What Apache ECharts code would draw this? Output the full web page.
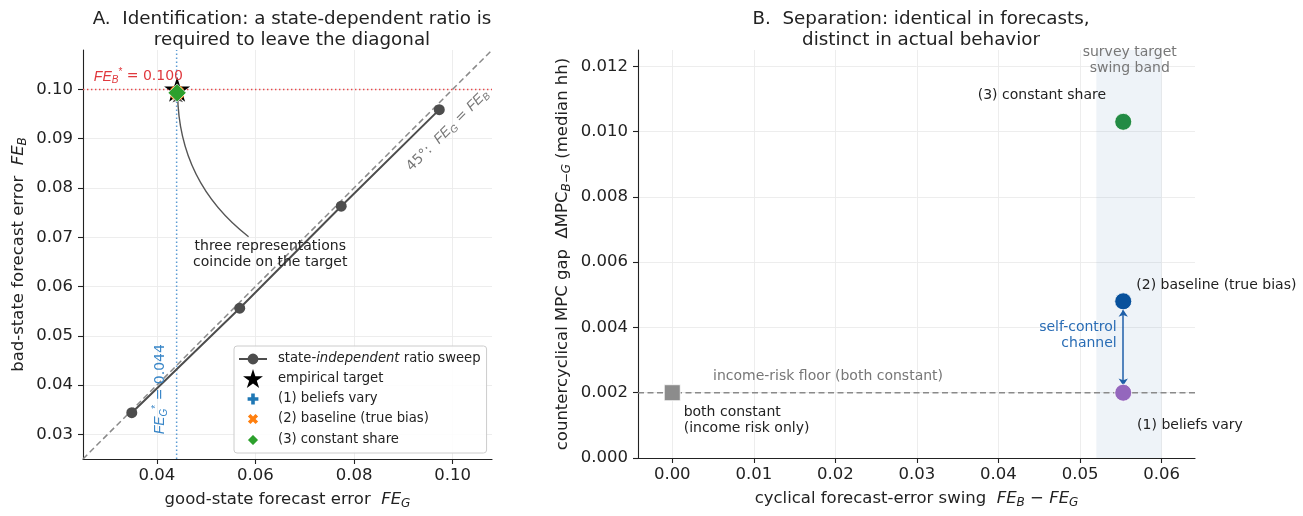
<!DOCTYPE html>
<html>
<head>
<meta charset="utf-8">
<title>Identification and separation</title>
<script src="https://cdn.jsdelivr.net/npm/echarts@6/dist/echarts.min.js"></script>
<style>
  html, body { margin: 0; padding: 0; background: #fff; }
  #main { width: 1303px; height: 516px; }
</style>
</head>
<body>
<div id="main"></div>
<script>
// ---- panel A: forecast errors ----
// state-independent ratio sweep: good-state FE vs bad-state FE
var sweepFEG = [0.0349, 0.0568, 0.0774, 0.0973];
var sweepFEB = [0.0344, 0.0556, 0.0763, 0.0959];
// empirical target and the three representations that hit it
var targetPoint = [0.0441, 0.1000];
var beliefsPoint = [0.0441, 0.0993];
var baselinePoint = [0.0441, 0.0993];
var constantPoint = [0.0441, 0.0993];
var targetFEG = 0.044;
var targetFEB = 0.100;

// ---- panel B: MPC gap against forecast-error swing ----
var reprNames = ['(1) beliefs vary', '(2) baseline (true bias)', '(3) constant share'];
var reprSwing = [0.0553, 0.0553, 0.0553];
var reprGap = [0.0020, 0.0048, 0.0103];
var bothConstantPoint = [0.0, 0.0020];
var incomeFloor = 0.002;
var surveyBand = [0.052, 0.060];

// ---- tick labels ----
var ticksAX = [0.04, 0.06, 0.08, 0.10];
var ticksAY = [0.03, 0.04, 0.05, 0.06, 0.07, 0.08, 0.09, 0.10];
var ticksBX = [0.00, 0.01, 0.02, 0.03, 0.04, 0.05, 0.06];
var ticksBY = [0.000, 0.002, 0.004, 0.006, 0.008, 0.010, 0.012];

var limA = [0.025, 0.108];
var limBX = [-0.0042, 0.0641];
var limBY = [0, 0.0125];

var FONT = 'DejaVu Sans';
var SWEEP = 'state-independent ratio sweep';

// marker shapes
var STAR = 'path://M0,-10L2.245,-3.09L9.511,-3.09L3.633,1.18L5.878,8.09L0,3.82L-5.878,8.09L-3.633,1.18L-9.511,-3.09L-2.245,-3.09Z';
var PLUS = 'path://M-2,-6L2,-6L2,-2L6,-2L6,2L2,2L2,6L-2,6L-2,2L-6,2L-6,-2L-2,-2Z';
var CROSS = 'path://M2.83,-5.66L5.66,-2.83L2.83,0L5.66,2.83L2.83,5.66L0,2.83L-2.83,5.66L-5.66,2.83L-2.83,0L-5.66,-2.83L-2.83,-5.66L0,-2.83Z';

// legend icons, drawn inside a 28x20 box so the sizes stay relative
var BOX = 'path://M-14,-10M14,10';
var ICON_SWEEP = BOX + 'M-14,-0.9L-5.2,-0.9L-5.2,0.9L-14,0.9ZM5.2,-0.9L14,-0.9L14,0.9L5.2,0.9ZM-5.4,0A5.4,5.4,0,1,1,5.4,0A5.4,5.4,0,1,1,-5.4,0Z';
var ICON_STAR = BOX + 'M0,-11L2.47,-3.4L10.46,-3.4L4,1.3L6.47,8.9L0,4.2L-6.47,8.9L-4,1.3L-10.46,-3.4L-2.47,-3.4Z';
var ICON_PLUS = BOX + 'M-1.8,-5.4L1.8,-5.4L1.8,-1.8L5.4,-1.8L5.4,1.8L1.8,1.8L1.8,5.4L-1.8,5.4L-1.8,1.8L-5.4,1.8L-5.4,-1.8L-1.8,-1.8Z';
var ICON_CROSS = BOX + 'M2.55,-5.1L5.1,-2.55L2.55,0L5.1,2.55L2.55,5.1L0,2.55L-2.55,5.1L-5.1,2.55L-2.55,0L-5.1,-2.55L-2.55,-5.1L0,-2.55Z';
var ICON_DIAMOND = BOX + 'M0,-6.5L6.5,0L0,6.5L-6.5,0Z';

function richFor(size) {
  var s = Math.round(size * 0.7);
  var off = Math.round(size * 0.55);
  return {
    it: { fontStyle: 'italic', fontSize: size },
    n: { fontSize: size },
    sub: { fontStyle: 'italic', fontSize: s, padding: [off, 0, 0, 0] },
    sup: { fontSize: s, padding: [0, 0, off, 0] }
  };
}

function zip(xs, ys) {
  return xs.map(function (x, i) { return [x, ys[i]]; });
}

function valueAxis(grid, lim, ticks, digits, name, nameGap, margin) {
  return {
    type: 'value', gridIndex: grid, min: lim[0], max: lim[1],
    name: name, nameLocation: 'middle', nameGap: nameGap,
    nameTextStyle: { fontFamily: FONT, fontSize: 16.5, color: '#222', rich: richFor(16.5) },
    axisLine: { show: true, onZero: false, lineStyle: { color: '#222', width: 1.1 } },
    axisTick: { show: true, length: 5, customValues: ticks, lineStyle: { color: '#222', width: 1.1 } },
    axisLabel: {
      customValues: ticks, margin: margin, color: '#222', fontFamily: FONT, fontSize: 16.5,
      formatter: function (v) { return v.toFixed(digits); }
    },
    splitLine: { show: true, lineStyle: { color: '#ebebeb', width: 0.9 } }
  };
}

// straight guide line drawn as a plain line series
function guide(name, grid, pts, color, dash) {
  return {
    name: name, type: 'line', xAxisIndex: grid, yAxisIndex: grid, z: 2,
    data: pts, symbol: 'none', silent: true,
    lineStyle: { color: color, width: 1.5, type: dash }
  };
}

var chart = echarts.init(document.getElementById('main'));

var option = {
  animation: false,
  textStyle: { fontFamily: FONT },
  title: [
    {
      text: 'A.  Identification: a state-dependent ratio is\nrequired to leave the diagonal',
      left: 287, top: 4, textAlign: 'center',
      textStyle: { fontFamily: FONT, fontSize: 18.3, fontWeight: 'normal', color: '#222', lineHeight: 21 }
    },
    {
      text: 'B.  Separation: identical in forecasts,\ndistinct in actual behavior',
      left: 916, top: 4, textAlign: 'center',
      textStyle: { fontFamily: FONT, fontSize: 18.3, fontWeight: 'normal', color: '#222', lineHeight: 21 }
    }
  ],
  grid: [
    { left: 83, top: 50, width: 409, height: 409 },
    { left: 638, top: 50, width: 557, height: 408 }
  ],
  xAxis: [
    valueAxis(0, limA, ticksAX, 2, 'good-state forecast error  {it|FE}{sub|G}', 30, 8),
    valueAxis(1, limBX, ticksBX, 2, 'cyclical forecast-error swing  {it|FE}{sub|B}{n| − }{it|FE}{sub|G}', 30, 8)
  ],
  yAxis: [
    valueAxis(0, limA, ticksAY, 2, 'bad-state forecast error  {it|FE}{sub|B}', 54, 10),
    valueAxis(1, limBY, ticksBY, 3, 'countercyclical MPC gap  ΔMPC{sub|B−G} (median hh)', 65, 10)
  ],
  legend: {
    orient: 'vertical', left: 234, top: 346,
    itemWidth: 28, itemHeight: 20, itemGap: 0,
    padding: [3, 6, 2, 4],
    borderColor: '#cccccc', borderWidth: 1, borderRadius: 3,
    backgroundColor: 'rgba(255,255,255,0.85)',
    selectedMode: false,
    textStyle: { fontFamily: FONT, fontSize: 13.2, color: '#222', padding: [0, 0, 0, 6], rich: richFor(13.2) },
    formatter: function (name) {
      return name === SWEEP ? '{n|state-}{it|independent}{n| ratio sweep}' : name;
    },
    data: [
      { name: SWEEP, icon: ICON_SWEEP },
      { name: 'empirical target', icon: ICON_STAR },
      { name: '(1) beliefs vary', icon: ICON_PLUS },
      { name: '(2) baseline (true bias)', icon: ICON_CROSS },
      { name: '(3) constant share', icon: ICON_DIAMOND }
    ]
  },
  series: [
    // 45 degree diagonal and the target guides
    guide('diagonal', 0, [[limA[0], limA[0]], [limA[1], limA[1]]], '#8a8a8a', [6, 3.5]),
    guide('target FE_B', 0, [[limA[0], targetFEB], [limA[1], targetFEB]], '#e8474a', [1.4, 2.6]),
    guide('target FE_G', 0, [[targetFEG, limA[0]], [targetFEG, limA[1]]], '#5c9bd3', [1.4, 2.6]),
    // curved pointer from the note to the target
    {
      name: 'pointer', type: 'lines', coordinateSystem: 'cartesian2d',
      xAxisIndex: 0, yAxisIndex: 0, z: 3, silent: true,
      symbol: ['none', 'arrow'], symbolSize: 8,
      lineStyle: { color: '#555', width: 1.4, opacity: 1, curveness: 0.24 },
      data: [{ coords: [[0.0586, 0.0701], [0.0442, 0.0990]] }]
    },
    {
      name: SWEEP, type: 'line', xAxisIndex: 0, yAxisIndex: 0, z: 4,
      data: zip(sweepFEG, sweepFEB),
      symbol: 'circle', symbolSize: 11,
      itemStyle: { color: '#4d4d4d' },
      lineStyle: { color: '#4d4d4d', width: 2 }
    },
    {
      name: 'empirical target', type: 'scatter', xAxisIndex: 0, yAxisIndex: 0, z: 5,
      data: [targetPoint], symbol: STAR, symbolSize: 26, symbolKeepAspect: true,
      itemStyle: { color: '#000', opacity: 1 }
    },
    {
      name: '(1) beliefs vary', type: 'scatter', xAxisIndex: 0, yAxisIndex: 0, z: 6,
      data: [beliefsPoint], symbol: PLUS, symbolSize: 13,
      itemStyle: { color: '#1f77b4', opacity: 1 }
    },
    {
      name: '(2) baseline (true bias)', type: 'scatter', xAxisIndex: 0, yAxisIndex: 0, z: 7,
      data: [baselinePoint], symbol: CROSS, symbolSize: 14,
      itemStyle: { color: '#ff7f0e', opacity: 1 }
    },
    {
      name: '(3) constant share', type: 'scatter', xAxisIndex: 0, yAxisIndex: 0, z: 8,
      data: [constantPoint], symbol: 'diamond', symbolSize: 18,
      itemStyle: { color: '#2ca02c', opacity: 1, borderColor: '#fff', borderWidth: 0.6 }
    },
    // panel B
    guide('income floor', 1, [[limBX[0], incomeFloor], [limBX[1], incomeFloor]], '#8a8a8a', [6, 3.5]),
    {
      name: 'both constant', type: 'scatter', xAxisIndex: 1, yAxisIndex: 1, z: 4,
      data: [bothConstantPoint], symbol: 'rect', symbolSize: 16,
      itemStyle: { color: '#8c8c8c', opacity: 1, borderColor: '#fff', borderWidth: 0.8 },
      markArea: {
        silent: true, itemStyle: { color: 'rgba(70,120,180,0.09)' },
        data: [[{ xAxis: surveyBand[0] }, { xAxis: surveyBand[1] }]]
      }
    },
    {
      name: 'self-control channel', type: 'lines', coordinateSystem: 'cartesian2d',
      xAxisIndex: 1, yAxisIndex: 1, z: 3, silent: true,
      symbol: ['arrow', 'arrow'], symbolSize: 7,
      lineStyle: { color: '#1f5fa8', width: 1.5, opacity: 1 },
      data: [{ coords: [[reprSwing[1], 0.00454], [reprSwing[0], 0.00222]] }]
    },
    {
      name: 'representations', type: 'scatter', xAxisIndex: 1, yAxisIndex: 1, z: 6,
      data: reprSwing.map(function (x, i) {
        return { name: reprNames[i], value: [x, reprGap[i]],
          itemStyle: { color: ['#9467bd', '#08519c', '#238b45'][i] } };
      }),
      symbol: 'circle', symbolSize: 17,
      itemStyle: { opacity: 1, borderColor: '#fff', borderWidth: 0.8 }
    }
  ]
};

chart.setOption(option);

// text annotations, anchored in data coordinates
var notes = [
  { grid: 0, at: [0.0272, 0.1026], text: '{it|FE}{sub|B}{sup|*} = 0.100', color: '#e0393e' },
  { grid: 0, at: [0.0407, 0.0300], text: '{it|FE}{sub|G}{sup|*} = 0.044', color: '#3a87c8', rotate: 90 },
  { grid: 0, at: [0.0990, 0.0917], text: '45°:  {it|FE}{sub|G} = {it|FE}{sub|B}', color: '#777', align: 'center', rotate: 45 },
  { grid: 0, at: [0.0630, 0.0665], text: 'three representations\ncoincide on the target', align: 'center' },
  { grid: 1, at: [0.0532, 0.0111], text: '(3) constant share', align: 'right' },
  { grid: 1, at: [0.0569, 0.0053], text: '(2) baseline (true bias)' },
  { grid: 1, at: [0.0570, 0.0010], text: '(1) beliefs vary' },
  { grid: 1, at: [0.0014, 0.00114], text: 'both constant\n(income risk only)' },
  { grid: 1, at: [0.0050, 0.0025], text: 'income-risk floor (both constant)', color: '#777' },
  { grid: 1, at: [0.0561, 0.01217], text: 'survey target\nswing band', color: '#777', align: 'center' },
  { grid: 1, at: [0.0545, 0.00376], text: 'self-control\nchannel', color: '#2a6db5', align: 'right' }
];

var graphics = notes.map(function (n) {
  var p = chart.convertToPixel({ gridIndex: n.grid }, n.at);
  return {
    type: 'text', x: p[0], y: p[1], z: 50,
    rotation: (n.rotate || 0) * Math.PI / 180,
    style: {
      text: n.text, fill: n.color || '#222',
      fontFamily: FONT, fontSize: 14, lineHeight: 16,
      align: n.align || 'left', verticalAlign: 'middle',
      rich: richFor(14)
    }
  };
});
chart.setOption({ graphic: graphics });
</script>
</body>
</html>
